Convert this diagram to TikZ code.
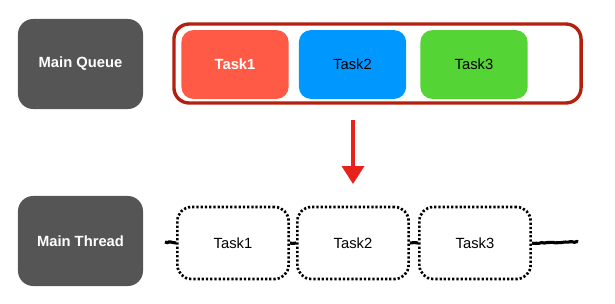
\documentclass[tikz,border=0pt]{standalone}
\usepackage{fontspec}
\setmainfont{Liberation Sans}
\usetikzlibrary{arrows.meta,decorations.pathmorphing}

\definecolor{boxgray}{HTML}{555555}
\definecolor{taskred}{HTML}{FF5A45}
\definecolor{taskblue}{HTML}{0098FF}
\definecolor{taskgreen}{HTML}{55D435}
\definecolor{queuered}{HTML}{B3200F}
\definecolor{fetchred}{HTML}{E8221A}

\tikzset{
  every node/.style={font=\fontsize{10.5}{12}\selectfont},
  lane/.style={rectangle, rounded corners=0.38cm, fill=boxgray, text=white,
    font=\fontsize{10.5}{12}\selectfont\bfseries, minimum width=3.125cm, minimum height=2.25cm},
  qtask/.style={rectangle, rounded corners=0.3cm, minimum width=2.68cm, minimum height=1.72cm},
  ttask/.style={rectangle, rounded corners=0.35cm, draw, dash pattern=on 1.6pt off 1.4pt, line width=1.9pt,
    minimum width=2.78cm, minimum height=1.8cm},
  queue/.style={rectangle, rounded corners=0.38cm, draw=queuered, line width=2.4pt,
    minimum width=10.175cm, minimum height=1.975cm},
  runline/.style={line width=2.2pt, decorate, decoration={random steps, segment length=1.5pt, amplitude=0.4pt}},
  fetch/.style={draw=fetchred, line width=2.6pt, -{Triangle[width=0.55cm, length=0.45cm]}}
}

\begin{document}
\begin{tikzpicture}[x=0.025cm, y=-0.025cm]
                \useasboundingbox (0,0) rectangle (615,303);

                % Nodes
                \node[lane] (mq) at (80.5,64) {Main Queue};
                \node[lane] (mt) at (80.5,241) {Main Thread};

                \node[queue] (queue) at (377.5,63.5) {};
                \node[qtask, fill=taskred, text=white, font=\fontsize{10.5}{12}\selectfont\bfseries] (q1) at (235,64.5) {Task1};
                \node[qtask, fill=taskblue] (q2) at (352.5,64.5) {Task2};
                \node[qtask, fill=taskgreen] (q3) at (474,64.5) {Task3};

                \node[ttask] (t1) at (233,243) {Task1};
                \node[ttask] (t2) at (353,243) {Task2};
                \node[ttask] (t3) at (475,243) {Task3};

                \coordinate (ftop) at (353,120);
                \coordinate (fbot) at (353,184);
                \coordinate (lstart) at (165,242);
                \coordinate (lend) at (578,242);

                % Edges
                \draw[fetch] (ftop)--(fbot);
                \draw[runline] (lstart)--(t1.west);
                \draw[runline] (t1.east)--(t2.west);
                \draw[runline] (t2.east)--(t3.west);
                \draw[runline] (t3.east)--(lend);
            \end{tikzpicture}
\end{document}
